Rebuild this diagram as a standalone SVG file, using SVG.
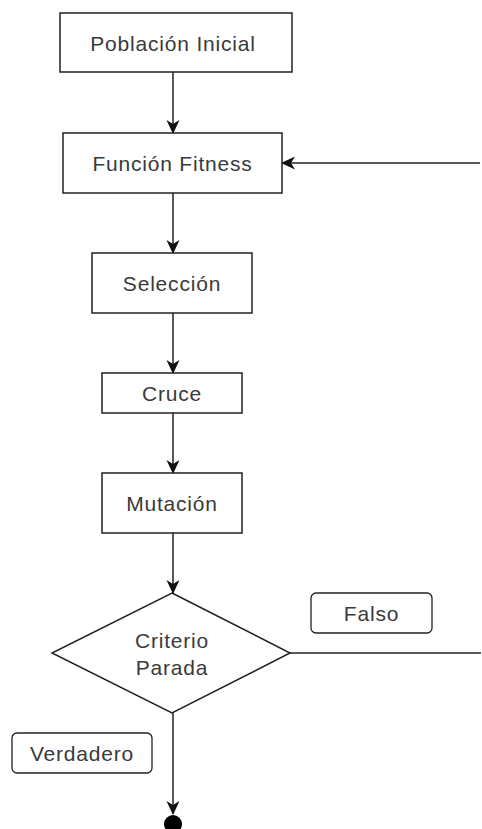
<svg xmlns="http://www.w3.org/2000/svg" width="482" height="829" viewBox="0 0 482 829">
<style>
.box{fill:#fff;stroke:#222;stroke-width:1.5}
.lbl{fill:#fff;stroke:#222;stroke-width:1.3}
.t{font-family:"Liberation Sans",Arial,sans-serif;font-size:21px;letter-spacing:0.8px;fill:#3a3a3a;text-anchor:middle;dominant-baseline:central}
.c{fill:none;stroke:#222;stroke-width:1.5}
</style>
<defs>
<marker id="ah" viewBox="0 0 14 14" refX="13" refY="7" markerWidth="14" markerHeight="14" markerUnits="userSpaceOnUse" orient="auto">
<path d="M0,0.5 L14,7 L0,13.5 L4,7 Z" fill="#111"/>
</marker>
</defs>
<rect width="482" height="829" fill="#fff"/>
<g id="connectors">
<line class="c" x1="173" y1="72" x2="173" y2="133" marker-end="url(#ah)"/>
<line class="c" x1="480" y1="163" x2="282" y2="163" marker-end="url(#ah)"/>
<line class="c" x1="173" y1="193" x2="173" y2="253" marker-end="url(#ah)"/>
<line class="c" x1="173" y1="313" x2="173" y2="373" marker-end="url(#ah)"/>
<line class="c" x1="173" y1="413" x2="173" y2="473" marker-end="url(#ah)"/>
<line class="c" x1="173" y1="533" x2="173" y2="593" marker-end="url(#ah)"/>
<line class="c" x1="290" y1="653" x2="481" y2="653"/>
<line class="c" x1="173" y1="713" x2="173" y2="814" marker-end="url(#ah)"/>
</g>
<g id="poblacion"><rect class="box" x="60" y="13" width="232" height="59"/><text class="t" x="173" y="43">Población Inicial</text></g>
<g id="fitness"><rect class="box" x="63" y="133" width="219" height="60"/><text class="t" x="172.5" y="163">Función Fitness</text></g>
<g id="seleccion"><rect class="box" x="92" y="253" width="160" height="60"/><text class="t" x="172" y="283">Selección</text></g>
<g id="cruce"><rect class="box" x="102" y="373" width="140" height="40"/><text class="t" x="172" y="393">Cruce</text></g>
<g id="mutacion"><rect class="box" x="102" y="473" width="140" height="60"/><text class="t" x="172" y="503">Mutación</text></g>
<g id="criterio"><polygon class="box" points="172,593 290,653 172,713 52,653"/><text class="t" x="172" y="640">Criterio</text><text class="t" x="172" y="667">Parada</text></g>
<g id="falso"><rect class="lbl" x="311" y="593" width="121" height="40" rx="5"/><text class="t" x="371.5" y="613">Falso</text></g>
<g id="verdadero"><rect class="lbl" x="12" y="733" width="140" height="40" rx="5"/><text class="t" x="82" y="753">Verdadero</text></g>
<g id="fin"><circle cx="173" cy="824" r="9" fill="#000"/></g>
</svg>
